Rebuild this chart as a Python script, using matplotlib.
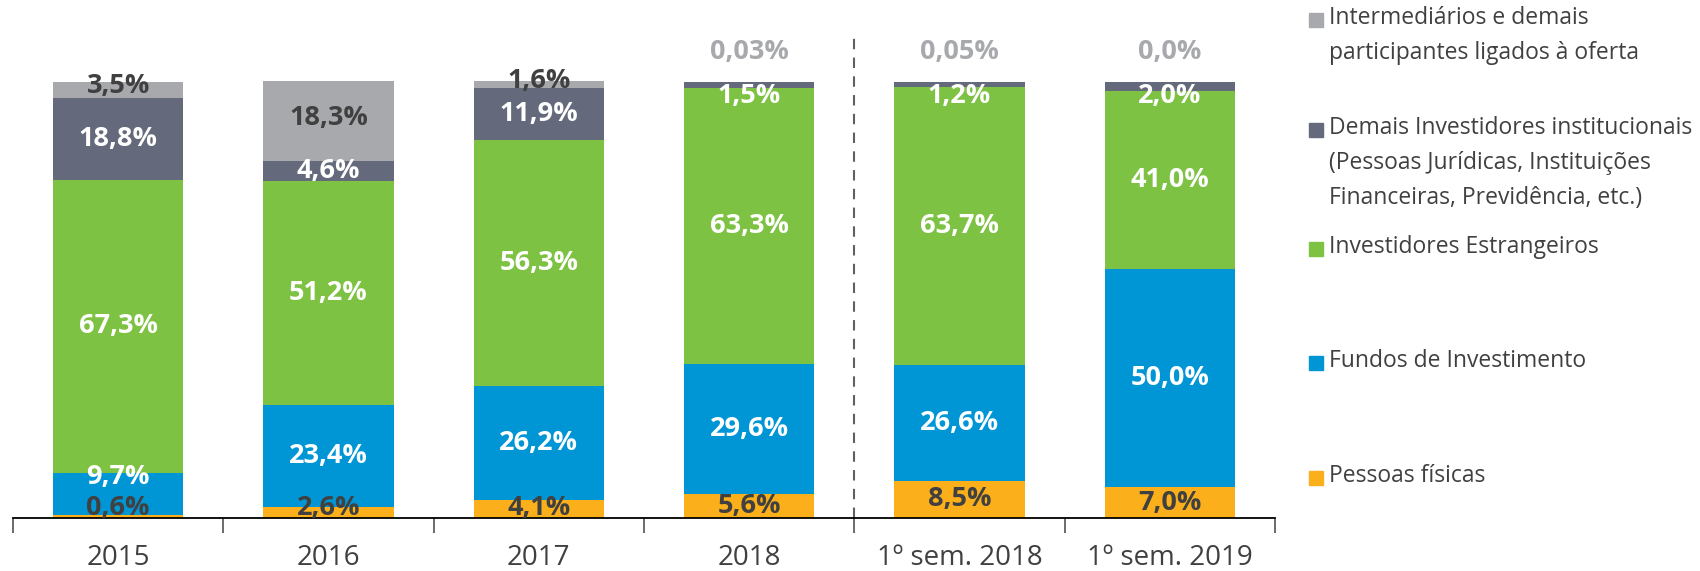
import matplotlib
matplotlib.use("Agg")
import matplotlib.pyplot as plt
from matplotlib.patches import Rectangle

plt.rcParams["font.family"] = ["Open Sans", "DejaVu Sans"]

CATEGORIES = ["2015", "2016", "2017", "2018", "1º sem. 2018", "1º sem. 2019"]

# stacked from the bottom up
PESSOAS_FISICAS = [0.6, 2.6, 4.1, 5.6, 8.5, 7.0]
FUNDOS = [9.7, 23.4, 26.2, 29.6, 26.6, 50.0]
ESTRANGEIROS = [67.3, 51.2, 56.3, 63.3, 63.7, 41.0]
DEMAIS_INST = [18.8, 4.6, 11.9, 1.5, 1.2, 2.0]
INTERMEDIARIOS = [3.5, 18.3, 1.6, 0.03, 0.05, 0.0]

SERIES = [
    ("Pessoas físicas", PESSOAS_FISICAS, "#FBAF1A", "#404040"),
    ("Fundos de Investimento", FUNDOS, "#0096D6", "white"),
    ("Investidores Estrangeiros", ESTRANGEIROS, "#7DC243", "white"),
    ("Demais Investidores institucionais\n(Pessoas Jurídicas, Instituições\nFinanceiras, Previdência, etc.)",
     DEMAIS_INST, "#646A7B", "white"),
    ("Intermediários e demais\nparticipantes ligados à oferta", INTERMEDIARIOS, "#A8A9AD", "#404040"),
]

DARK = "#404040"
LABEL_SIZE = 19.5
MIN_GAP = 7.0  # in % units, keeps stacked labels from sitting on top of each other


def fmt(v):
    if 0 < v < 0.1:
        return f"{v:.2f}%".replace(".", ",")
    return f"{v:.1f}%".replace(".", ",")


fig = plt.figure(figsize=(17, 5.71), dpi=100)
ax = fig.add_axes([13 / 1700, 53 / 571, 1262 / 1700, 488 / 571])

x = list(range(len(CATEGORIES)))
bottoms = [0.0] * len(CATEGORIES)
last_label = [-100.0] * len(CATEGORIES)
for idx, (name, vals, color, tcolor) in enumerate(SERIES):
    ax.bar(x, vals, bottom=bottoms, width=0.62, color=color, edgecolor="none", zorder=2)
    for i, v in enumerate(vals):
        center = bottoms[i] + v / 2
        if idx == len(SERIES) - 1:
            if v >= 1:
                ax.text(i, center + 0.8, fmt(v), ha="center", va="center", fontsize=LABEL_SIZE,
                        fontweight="bold", color=DARK, zorder=4)
            else:
                ax.text(i, bottoms[i] + v + 6.8, fmt(v), ha="center", va="center",
                        fontsize=LABEL_SIZE, fontweight="bold", color="#A8A9AD", zorder=4)
        else:
            y = min(max(center, 2.3), 96.8)
            y = max(y, last_label[i] + MIN_GAP)
            last_label[i] = y
            ax.text(i, y, fmt(v), ha="center", va="center", fontsize=LABEL_SIZE,
                    fontweight="bold", color=tcolor, zorder=4)
        bottoms[i] += v

ax.set_xlim(-0.5, len(CATEGORIES) - 0.5)
ax.set_ylim(0, 111.9)
ax.axvline(3.5, ymin=0, ymax=110 / 111.9, color="#606060", linestyle=(0, (5, 4)),
           linewidth=1.5, zorder=1)

for s in ["top", "right", "left"]:
    ax.spines[s].set_visible(False)
ax.spines["bottom"].set_color("black")
ax.spines["bottom"].set_linewidth(1.3)
ax.set_yticks([])
ax.set_xticks([i - 0.5 for i in range(len(CATEGORIES) + 1)])
ax.set_xticklabels([])
ax.set_xticks(x, minor=True)
ax.set_xticklabels(CATEGORIES, minor=True, fontsize=20, color=DARK)
ax.tick_params(axis="x", which="major", length=11, width=1.3, color="#606060", direction="out")
ax.tick_params(axis="x", which="minor", length=0, pad=19)

# legend drawn by hand, entries spaced like the reference
legend_y = [20, 130, 249, 363, 478]
for (name, vals, color, tcolor), ly in zip(reversed(SERIES), legend_y):
    fig.patches.append(Rectangle((1309 / 1700, (571 - ly - 7) / 571), 14 / 1700, 14 / 571,
                                 transform=fig.transFigure, color=color))
    fig.text(1329 / 1700, (571 - ly + 14) / 571, name, ha="left", va="top", fontsize=16.5,
             color=DARK, linespacing=1.62)

fig.savefig("out.png", dpi=100)
